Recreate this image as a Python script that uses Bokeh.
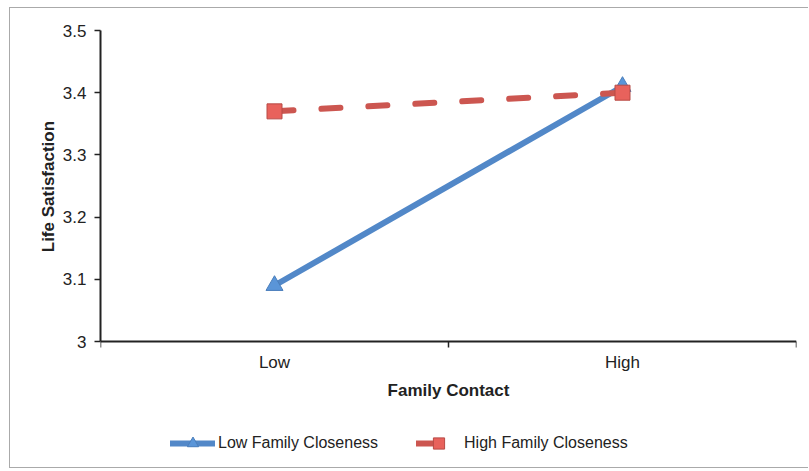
from bokeh.plotting import figure
from bokeh.models import (FixedTicker, Legend, LegendItem, Range1d)
from bokeh.embed import file_html
from bokeh.resources import INLINE

categories = ["Low", "High"]
x_pos = [0.5, 1.5]
low_closeness = [3.09, 3.41]
high_closeness = [3.37, 3.40]
y_ticks = [3.0, 3.1, 3.2, 3.3, 3.4, 3.5]
y_tick_labels = ["3", "3.1", "3.2", "3.3", "3.4", "3.5"]
y_min, y_max = 3.0, 3.5

FONT = "Liberation Sans"
TXT = "#222222"
FS = "17px"

# frame extends below the x axis so that the legend can sit inside it
W, H = 799, 461
FRAME_TOP, AXIS_Y, FRAME_BOTTOM = 22, 333, 457     # canvas pixels
px_per_unit = (AXIS_Y - FRAME_TOP) / (y_max - y_min)
y_start = y_min - (FRAME_BOTTOM - AXIS_Y) / px_per_unit

BORDER = "1px solid #AAAAAA"
p = figure(width=W, height=H, output_backend="svg", toolbar_location=None,
           x_range=Range1d(0, 2), y_range=Range1d(y_start, y_max),
           min_border_left=90, min_border_right=13, min_border_top=FRAME_TOP,
           min_border_bottom=H - FRAME_BOTTOM,
           margin=(7, 0, 0, 9),
           styles={"border-top": BORDER, "border-left": BORDER, "border-bottom": BORDER})
p.background_fill_color = "white"
p.border_fill_color = "white"
p.outline_line_color = None
p.xgrid.visible = False
p.ygrid.visible = False

# X axis, pinned at y = 3.0
xa = p.xaxis[0]
xa.fixed_location = y_min
xa.ticker = FixedTicker(ticks=x_pos, minor_ticks=[0, 1, 2])
xa.major_label_overrides = {x: c for x, c in zip(x_pos, categories)}
xa.major_tick_out = 0
xa.major_tick_in = 0
xa.minor_tick_out = 6
xa.minor_tick_in = 0
xa.minor_tick_line_color = "#222222"
xa.minor_tick_line_width = 1.5
xa.axis_line_color = "#222222"
xa.axis_line_width = 2
xa.major_label_text_font = FONT
xa.major_label_text_font_size = FS
xa.major_label_text_color = TXT
xa.major_label_standoff = 5
xa.axis_label = "Family Contact"
xa.axis_label_text_font = FONT
xa.axis_label_text_font_style = "bold"
xa.axis_label_text_font_size = FS
xa.axis_label_text_color = TXT
xa.axis_label_standoff = 6

# Y axis
ya = p.yaxis[0]
ya.bounds = (y_min, y_max)
ya.ticker = FixedTicker(ticks=y_ticks, minor_ticks=[])
ya.major_label_overrides = {t: l for t, l in zip(y_ticks, y_tick_labels)}
ya.major_tick_out = 6
ya.major_tick_in = 0
ya.major_tick_line_color = "#222222"
ya.major_tick_line_width = 1.5
ya.axis_line_color = "#222222"
ya.axis_line_width = 2
ya.major_label_text_font = FONT
ya.major_label_text_font_size = FS
ya.major_label_text_color = TXT
ya.major_label_standoff = 8
# leading no-break spaces lift the label to the centre of the 3.0-3.5 span
ya.axis_label = "\u00a0" * 26 + "Life Satisfaction"
ya.axis_label_text_font = FONT
ya.axis_label_text_font_style = "bold"
ya.axis_label_text_font_size = FS
ya.axis_label_text_color = TXT
ya.axis_label_standoff = 2

BLUE = "#5288C8"
RED = "#CC5650"

l1 = p.line(x_pos, low_closeness, line_color=BLUE, line_width=6, line_cap="round")
m1 = p.scatter(x_pos, low_closeness, marker="triangle", size=17,
               fill_color="#5A95D8", line_color="#4A7EBB", line_width=1)
l2 = p.line(x_pos, high_closeness, line_color=RED, line_width=6, line_cap="round",
            line_dash="19 28")
m2 = p.scatter(x_pos, high_closeness, marker="square", size=15,
               fill_color="#E8625C", line_color="#B84A45", line_width=1)

legend = Legend(items=[
    LegendItem(label="Low Family Closeness", renderers=[l1, m1]),
    LegendItem(label="High Family Closeness", renderers=[l2, m2]),
], orientation="horizontal", location=(70, 8))
legend.label_text_font = FONT
legend.label_text_font_size = "16px"
legend.label_text_color = TXT
legend.glyph_width = 45
legend.glyph_height = 28
legend.label_standoff = 3
legend.spacing = 38
legend.padding = 5
legend.margin = 0
legend.border_line_color = None
legend.background_fill_alpha = 0
p.add_layout(legend, "center")

open("out.html", "w").write(file_html(p, INLINE))
